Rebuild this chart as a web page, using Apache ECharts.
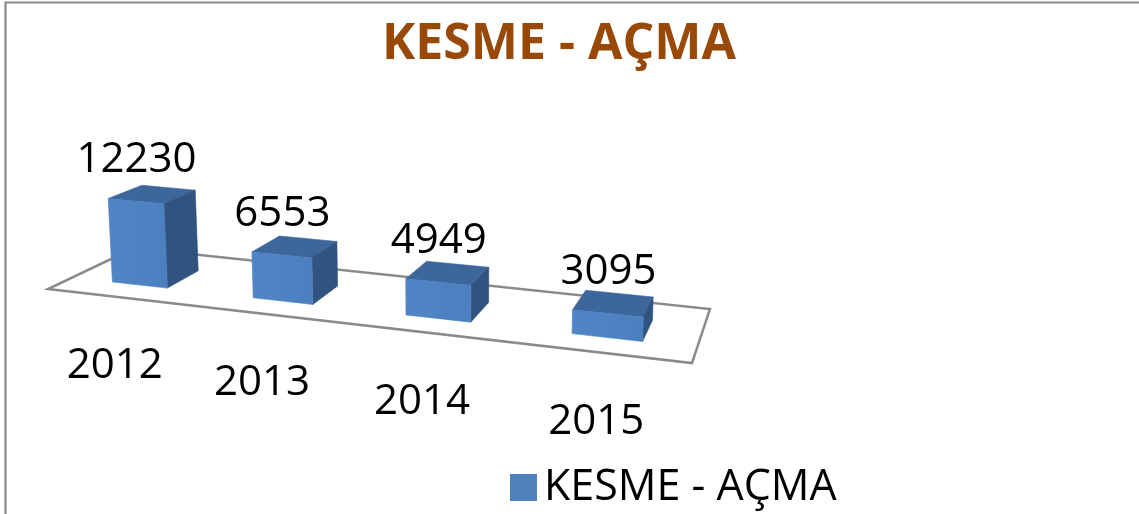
<!DOCTYPE html>
<html>
<head>
<meta charset="utf-8">
<script src="https://cdn.jsdelivr.net/npm/echarts@6/dist/echarts.min.js"></script>
<style>
  html, body { margin: 0; padding: 0; background: #ffffff; }
  #chart { width: 1139px; height: 514px; }
</style>
</head>
<body>
<div id="chart"></div>
<script>
// Data
const years = ['2012', '2013', '2014', '2015'];
const counts = [12230, 6553, 4949, 3095];
const seriesName = 'KESME - AÇMA';

// Value axis range (hidden axis)
const VALUE_MAX = 14000;
// Bar footprint inside a category band, and bar depth on the floor
const BAR_RATIO = 0.4;
const DEPTH_FRONT = 0.26;
const DEPTH_BACK = 0.66;

// Perspective camera: the floor (u across categories, w front->back) is mapped
// by a homography; heights go up along a column that converges far below.
const CAM = { a: 572.2, b: 102.25, c: 48, d: 36.4, e: -10.9, f: 289, g: -0.1037, h: 0.1213 };
const RISE = -0.0071894;          // screen rise per value unit at unit depth
const VANISH = [448, 7000];       // vanishing point of vertical edges
const BOW = 0.06;                 // slight bow of the category direction
const HEIGHT_GAIN = 0.09;         // extra height growth toward the near side

function project(u, w, t) {
  const uu = u - BOW * u * (1 - u);
  const yy = RISE * t * (1 + HEIGHT_GAIN * uu * uu);
  const yw = yy / VANISH[1];
  const yx = VANISH[0] * yw;
  const X = CAM.a * uu + CAM.b * w + CAM.c + yx;
  const Y = CAM.d * uu + CAM.e * w + CAM.f + yy;
  const D = CAM.g * uu + CAM.h * w + 1 + yw;
  return [X / D, Y / D];
}

const FONT = '"Open Sans", "Noto Sans", sans-serif';
const COLORS = { front: '#4b7fbf', frontLight: '#5186c6', side: '#31537f', top: '#3d669b', floor: '#8a8a8a' };

function renderFloor(params, api) {
  const pts = [project(0, 0, 0), project(1, 0, 0), project(1, 1, 0), project(0, 1, 0)];
  return {
    type: 'polygon',
    shape: { points: pts },
    style: { fill: 'none', stroke: COLORS.floor, lineWidth: 2.5 },
    silent: true
  };
}

function renderBar(params, api) {
  const cs = params.coordSys;
  const idx = api.value(0);
  const val = api.value(1);
  const base = api.coord([idx, 0]);
  const top = api.coord([idx, val]);
  const uc = (base[0] - cs.x) / cs.width;
  const hu = api.size([1, 0])[0] * BAR_RATIO / cs.width / 2;
  const t = (base[1] - top[1]) / cs.height * VALUE_MAX;
  const u0 = uc - hu, u1 = uc + hu;
  const w0 = DEPTH_FRONT, w1 = DEPTH_BACK;

  const fbl = project(u0, w0, 0), fbr = project(u1, w0, 0);
  const ftl = project(u0, w0, t), ftr = project(u1, w0, t);
  const bbr = project(u1, w1, 0);
  const btl = project(u0, w1, t), btr = project(u1, w1, t);

  const frontTopMid = [(ftl[0] + ftr[0]) / 2, (ftl[1] + ftr[1]) / 2];
  const floorFront = project(uc, 0, 0);

  return {
    type: 'group',
    children: [
      { type: 'polygon', shape: { points: [ftl, ftr, btr, btl] },
        style: { fill: COLORS.top, stroke: COLORS.top, lineWidth: 0.6 } },
      { type: 'polygon', shape: { points: [ftr, fbr, bbr, btr] },
        style: { fill: COLORS.side, stroke: COLORS.side, lineWidth: 0.6 } },
      { type: 'polygon', shape: { points: [ftl, ftr, fbr, fbl] },
        style: {
          fill: new echarts.graphic.LinearGradient(0, 0, 1, 0, [
            { offset: 0, color: COLORS.frontLight },
            { offset: 1, color: COLORS.front }
          ]),
          stroke: COLORS.front, lineWidth: 0.6
        } },
      { type: 'text', x: frontTopMid[0] + 0.5, y: frontTopMid[1] - 41,
        style: { text: String(val), fill: '#000000', font: '42px ' + FONT,
                 align: 'center', verticalAlign: 'middle' } },
      { type: 'text', x: floorFront[0] - 2.5, y: floorFront[1] + 69.5,
        style: { text: years[idx], fill: '#000000', font: '42px ' + FONT,
                 align: 'center', verticalAlign: 'middle' } }
    ]
  };
}

const chart = echarts.init(document.getElementById('chart'), null, { renderer: 'canvas' });
chart.setOption({
  animation: false,
  backgroundColor: '#ffffff',
  title: {
    text: seriesName,
    left: 377,
    top: 15,
    textStyle: { color: '#984807', fontFamily: FONT, fontWeight: 'bold', fontSize: 50 }
  },
  legend: {
    data: [seriesName],
    left: 510,
    top: 466,
    padding: 0,
    icon: 'rect',
    itemWidth: 27,
    itemHeight: 27,
    textStyle: { color: '#000000', fontFamily: FONT, fontSize: 43, padding: [0, 0, 0, 2] }
  },
  grid: { left: 0, top: 0, width: 1000, height: 1000, show: false },
  xAxis: { type: 'category', data: years, show: false },
  yAxis: { type: 'value', min: 0, max: VALUE_MAX, show: false },
  graphic: [
    { type: 'rect', shape: { x: 5.5, y: 2.5, width: 1300, height: 700 },
      style: { fill: 'none', stroke: '#8a8a8a', lineWidth: 2.2 }, silent: true }
  ],
  series: [
    { type: 'custom', z: 1, silent: true, renderItem: renderFloor, data: [[0]] },
    {
      type: 'custom',
      name: seriesName,
      z: 2,
      itemStyle: { color: '#4f81bd' },
      renderItem: renderBar,
      encode: { x: 0, y: 1 },
      data: counts.map((v, i) => [i, v])
    }
  ]
});
</script>
</body>
</html>
